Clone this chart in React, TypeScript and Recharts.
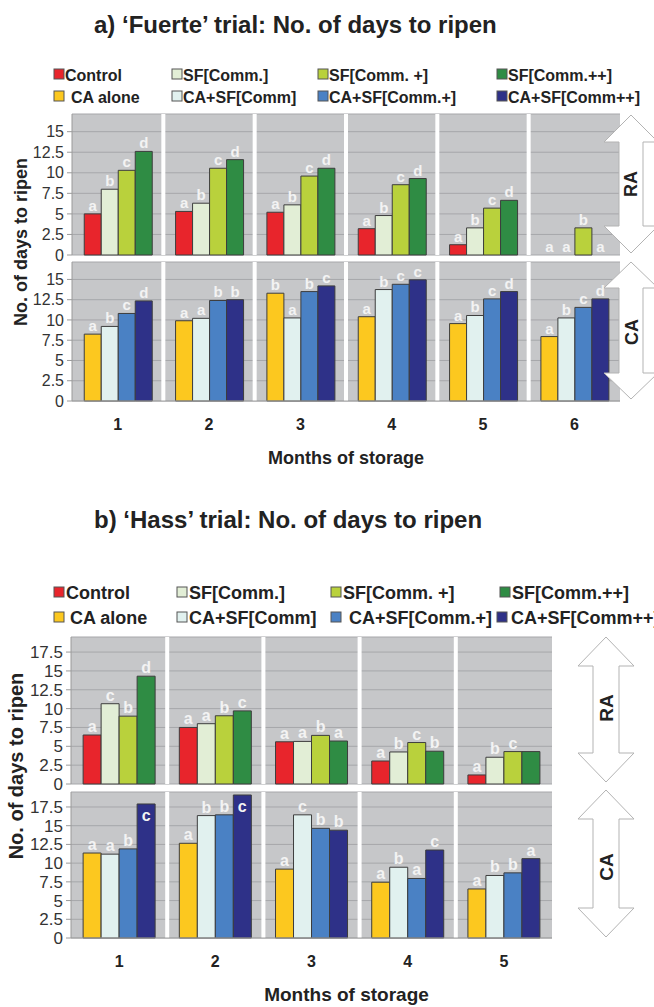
import React from 'react';
import { BarChart, Bar, XAxis, YAxis, CartesianGrid, LabelList, Label, Rectangle } from 'recharts';

const FONT = '"Liberation Sans", Arial, Helvetica, sans-serif';

// Series names and colours
const raSeriesNames = ['Control', 'SF[Comm.]', 'SF[Comm. +]', 'SF[Comm.++]'];
const caSeriesNames = ['CA alone', 'CA+SF[Comm]', 'CA+SF[Comm.+]', 'CA+SF[Comm++]'];
const raColors = ['#e8252c', '#e2eed6', '#b9d13c', '#2f8c44'];
const caColors = ['#fcc81f', '#e1f1ef', '#4a81c4', '#2e3188'];

// ---------- a) Fuerte trial ----------
const fuerteMonths = ['1', '2', '3', '4', '5', '6'];
const fuerteTicks = [0, 2.5, 5, 7.5, 10, 12.5, 15];

const fuerteRAControl = [5.0, 5.3, 5.2, 3.2, 1.25, 0];
const fuerteRASF = [8.0, 6.3, 6.1, 4.8, 3.3, 0];
const fuerteRASFPlus = [10.3, 10.55, 9.6, 8.55, 5.7, 3.3];
const fuerteRASFPlusPlus = [12.6, 11.6, 10.55, 9.3, 6.65, 0];
const fuerteRAControlLetters = ['a', 'a', 'a', 'a', 'a', 'a'];
const fuerteRASFLetters = ['b', 'b', 'b', 'b', 'b', 'a'];
const fuerteRASFPlusLetters = ['c', 'c', 'c', 'c', 'c', 'b'];
const fuerteRASFPlusPlusLetters = ['d', 'd', 'd', 'd', 'd', 'a'];

const fuerteCAAlone = [8.25, 9.9, 13.3, 10.4, 9.55, 7.95];
const fuerteCASF = [9.2, 10.2, 10.25, 13.75, 10.55, 10.25];
const fuerteCASFPlus = [10.8, 12.4, 13.5, 14.4, 12.6, 11.55];
const fuerteCASFPlusPlus = [12.35, 12.5, 14.2, 14.95, 13.5, 12.6];
const fuerteCAAloneLetters = ['a', 'a', 'b', 'a', 'a', 'a'];
const fuerteCASFLetters = ['b', 'a', 'a', 'b', 'b', 'b'];
const fuerteCASFPlusLetters = ['c', 'b', 'b', 'c', 'c', 'c'];
const fuerteCASFPlusPlusLetters = ['d', 'b', 'c', 'c', 'd', 'd'];

// ---------- b) Hass trial ----------
const hassMonths = ['1', '2', '3', '4', '5'];
const hassTicks = [0, 2.5, 5, 7.5, 10, 12.5, 15, 17.5];

const hassRAControl = [6.5, 7.5, 5.6, 3.05, 1.2];
const hassRASF = [10.65, 8.0, 5.65, 4.25, 3.55];
const hassRASFPlus = [9.0, 9.05, 6.45, 5.5, 4.3];
const hassRASFPlusPlus = [14.3, 9.7, 5.7, 4.35, 4.3];
const hassRAControlLetters = ['a', 'a', 'a', 'a', 'a'];
const hassRASFLetters = ['c', 'a', 'a', 'b', 'b'];
const hassRASFPlusLetters = ['b', 'b', 'b', 'c', 'c'];
const hassRASFPlusPlusLetters = ['d', 'c', 'a', 'b', ''];

const hassCAAlone = [11.35, 12.65, 9.2, 7.45, 6.55];
const hassCASF = [11.2, 16.35, 16.45, 9.45, 8.35];
const hassCASFPlus = [11.9, 16.45, 14.65, 7.95, 8.7];
const hassCASFPlusPlus = [17.9, 19.1, 14.4, 11.75, 10.6];
const hassCAAloneLetters = ['a', 'a', 'a', 'a', 'a'];
const hassCASFLetters = ['a', 'b', 'c', 'b', 'b'];
const hassCASFPlusLetters = ['b', 'b', 'b', 'a', 'b'];
const hassCASFPlusPlusLetters = ['c', 'c', 'b', 'c', 'a'];

function buildRows(categories: string[], values: number[][], letters: string[][]) {
  return categories.map((c, i) => {
    const row: any = { month: c };
    values.forEach((vals, s) => {
      row['v' + s] = vals[i];
      row['l' + s] = letters[s][i];
    });
    return row;
  });
}

const letterContent = (vals: number[], domainMax: number, fontSize: number) => (props: any) => {
  const { x, y, width, height, value, index } = props;
  if (!value) return null;
  const cx = Number(x) + Number(width) / 2;
  const inside = vals[index] > domainMax * 0.88;
  const top = Number(y) + Math.min(0, Number(height) || 0);
  const ty = inside ? top + fontSize + 1 : top - 3;
  return (
    <text x={cx} y={ty} textAnchor="middle" fontSize={fontSize} fontWeight="bold" fill="#f3f3f3" fontFamily={FONT}>
      {value}
    </text>
  );
};

const barShape = (props: any) => {
  if (Math.abs(Number(props.height) || 0) < 0.5) return <g />;
  return <Rectangle {...props} />;
};

type RowProps = {
  plotTop: number;
  plotBottom: number;
  plotLeft: number;
  plotRight: number;
  categories: string[];
  values: number[][];
  letters: string[][];
  colors: string[];
  names: string[];
  domainMax: number;
  ticks: number[];
  showX: boolean;
  tickFont: number;
  letterFont: number;
  gap: string;
  xTitleDx?: number;
  xTitleFont?: number;
};

function PanelRow(p: RowProps) {
  const marginTop = 8;
  const xAxisH = p.showX ? 72 : 0;
  const bottomPad = p.showX ? 0 : 12;
  const height = p.plotBottom - p.plotTop + marginTop + xAxisH + bottomPad;
  const data = buildRows(p.categories, p.values, p.letters);
  const n = p.categories.length;
  const boundaryGen = (args: any) => {
    const off = args && args.offset ? args.offset : null;
    const left = off ? off.left : p.plotLeft;
    const w = off ? off.width : p.plotRight - p.plotLeft;
    const out: number[] = [];
    for (let i = 1; i < n; i++) out.push(left + (w * i) / n);
    return out;
  };
  return (
    <div style={{ position: 'absolute', left: 0, top: p.plotTop - marginTop }}>
      <BarChart
        width={654}
        height={height}
        data={data}
        margin={{ top: marginTop, right: 654 - p.plotRight, bottom: bottomPad, left: 0 }}
        barCategoryGap={p.gap}
        barGap={0}
      >
        <CartesianGrid horizontal vertical={false} fill="#c6c7c9" fillOpacity={1} stroke="#a6a7aa" />
        <CartesianGrid horizontal={false} vertical stroke="#ffffff" strokeWidth={4} verticalCoordinatesGenerator={boundaryGen} />
        <XAxis
          dataKey="month"
          hide={!p.showX}
          height={xAxisH}
          interval={0}
          tickLine={false}
          tickSize={0}
          tickMargin={18}
          axisLine={{ stroke: '#a0a0a0' }}
          tick={{ fontSize: 16, fontWeight: 'bold', fill: '#222', fontFamily: FONT }}
        >
          {p.showX ? (
            <Label
              value="Months of storage"
              position="insideBottom"
              offset={9}
              dx={p.xTitleDx || 0}
              style={{ fontSize: p.xTitleFont || 18, fontWeight: 'bold', fill: '#222', fontFamily: FONT }}
            />
          ) : null}
        </XAxis>
        <YAxis
          type="number"
          domain={[0, p.domainMax]}
          ticks={p.ticks}
          interval={0}
          width={p.plotLeft}
          tickSize={5}
          tickMargin={3}
          axisLine={{ stroke: '#9a9a9a' }}
          tickLine={{ stroke: '#9a9a9a' }}
          tick={{ fontSize: p.tickFont, fill: '#333', fontFamily: FONT }}
        />
        {p.values.map((vals, s) => (
          <Bar
            key={s}
            dataKey={'v' + s}
            name={p.names[s]}
            fill={p.colors[s]}
            stroke="#3d3d3d"
            strokeWidth={1}
            minPointSize={0.01}
            shape={barShape}
            isAnimationActive={false}
          >
            <LabelList dataKey={'l' + s} content={letterContent(vals, p.domainMax, p.letterFont)} />
          </Bar>
        ))}
      </BarChart>
    </div>
  );
}

function DoubleArrow({ cx, y0, y1, hw, sw, hh }: { cx: number; y0: number; y1: number; hw: number; sw: number; hh: number }) {
  const d = `M${cx},${y0} L${cx + hw},${y0 + hh} L${cx + sw},${y0 + hh} L${cx + sw},${y1 - hh} L${cx + hw},${y1 - hh} L${cx},${y1} L${cx - hw},${y1 - hh} L${cx - sw},${y1 - hh} L${cx - sw},${y0 + hh} L${cx - hw},${y0 + hh} Z`;
  return <path d={d} fill="#ffffff" stroke="#b3b3b3" strokeWidth={1} />;
}

function LegendRow({ y, names, colors, squares, texts, font }: { y: number; names: string[]; colors: string[]; squares: number[]; texts: number[]; font: number }) {
  return (
    <g>
      {names.map((nm, i) => (
        <g key={nm}>
          <rect x={squares[i]} y={y - 6} width={10} height={10} fill={colors[i]} stroke="#555" strokeWidth={1} />
          <text x={texts[i]} y={y + 6} fontSize={font} fontWeight="bold" fill="#222" fontFamily={FONT}>
            {nm}
          </text>
        </g>
      ))}
    </g>
  );
}

export default function App() {
  const fuerteRAValues = [fuerteRAControl, fuerteRASF, fuerteRASFPlus, fuerteRASFPlusPlus];
  const fuerteRALetters = [fuerteRAControlLetters, fuerteRASFLetters, fuerteRASFPlusLetters, fuerteRASFPlusPlusLetters];
  const fuerteCAValues = [fuerteCAAlone, fuerteCASF, fuerteCASFPlus, fuerteCASFPlusPlus];
  const fuerteCALetters = [fuerteCAAloneLetters, fuerteCASFLetters, fuerteCASFPlusLetters, fuerteCASFPlusPlusLetters];
  const hassRAValues = [hassRAControl, hassRASF, hassRASFPlus, hassRASFPlusPlus];
  const hassRALetters = [hassRAControlLetters, hassRASFLetters, hassRASFPlusLetters, hassRASFPlusPlusLetters];
  const hassCAValues = [hassCAAlone, hassCASF, hassCASFPlus, hassCASFPlusPlus];
  const hassCALetters = [hassCAAloneLetters, hassCASFLetters, hassCASFPlusLetters, hassCASFPlusPlusLetters];

  return (
    <div style={{ position: 'absolute', left: 0, top: 0, width: 654, height: 1007, background: '#ffffff', overflow: 'hidden', fontFamily: FONT }}>
      <PanelRow
        plotTop={114} plotBottom={255} plotLeft={72} plotRight={620}
        categories={fuerteMonths} values={fuerteRAValues} letters={fuerteRALetters}
        colors={raColors} names={raSeriesNames} domainMax={17.15} ticks={fuerteTicks}
        showX={false} tickFont={16} letterFont={15} gap="13.4%"
      />
      <PanelRow
        plotTop={262} plotBottom={401} plotLeft={72} plotRight={620}
        categories={fuerteMonths} values={fuerteCAValues} letters={fuerteCALetters}
        colors={caColors} names={caSeriesNames} domainMax={17.15} ticks={fuerteTicks}
        showX={true} tickFont={16} letterFont={15} gap="13.4%" xTitleDx={0} xTitleFont={18}
      />
      <PanelRow
        plotTop={637} plotBottom={784} plotLeft={71} plotRight={552}
        categories={hassMonths} values={hassRAValues} letters={hassRALetters}
        colors={raColors} names={raSeriesNames} domainMax={19.5} ticks={hassTicks}
        showX={false} tickFont={17} letterFont={16} gap="12.6%"
      />
      <PanelRow
        plotTop={792} plotBottom={938} plotLeft={71} plotRight={552}
        categories={hassMonths} values={hassCAValues} letters={hassCALetters}
        colors={caColors} names={caSeriesNames} domainMax={19.5} ticks={hassTicks}
        showX={true} tickFont={17} letterFont={16} gap="12.6%" xTitleDx={35} xTitleFont={19}
      />
      <svg width={654} height={1007} style={{ position: 'absolute', left: 0, top: 0, pointerEvents: 'none' }}>
        {/* a) title and legend */}
        <text x={94} y={33} fontSize={24} fontWeight="bold" fill="#222" fontFamily={FONT}>
          a) {'\u2018'}Fuerte{'\u2019'} trial: No. of days to ripen
        </text>
        <LegendRow y={75} names={raSeriesNames} colors={raColors} squares={[54, 172, 318, 497]} texts={[65, 183, 329, 508]} font={16} />
        <LegendRow y={97} names={caSeriesNames} colors={caColors} squares={[54, 172, 318, 497]} texts={[71, 183, 329, 508]} font={16} />
        <text transform="translate(27,242) rotate(-90)" textAnchor="middle" fontSize={18} fontWeight="bold" fill="#222" fontFamily={FONT}>
          No. of days to ripen
        </text>
        <DoubleArrow cx={631} y0={115} y1={253} hw={27} sw={12} hh={27} />
        <DoubleArrow cx={631} y0={262} y1={399} hw={27} sw={12} hh={26} />
        <text transform="translate(637,184) rotate(-90)" textAnchor="middle" fontSize={18} fontWeight="bold" fill="#222" fontFamily={FONT}>RA</text>
        <text transform="translate(638,332) rotate(-90)" textAnchor="middle" fontSize={18} fontWeight="bold" fill="#222" fontFamily={FONT}>CA</text>

        {/* b) title and legend */}
        <text x={94} y={528} fontSize={24} fontWeight="bold" fill="#222" fontFamily={FONT}>
          b) {'\u2018'}Hass{'\u2019'} trial: No. of days to ripen
        </text>
        <LegendRow y={593} names={raSeriesNames} colors={raColors} squares={[54, 177, 331, 500]} texts={[66, 189, 343, 512]} font={18} />
        <LegendRow y={618} names={caSeriesNames} colors={caColors} squares={[54, 177, 331, 497]} texts={[70, 189, 349, 511]} font={18} />
        <text transform="translate(23,766) rotate(-90)" textAnchor="middle" fontSize={20} fontWeight="bold" fill="#222" fontFamily={FONT}>
          No. of days to ripen
        </text>
        <DoubleArrow cx={606} y0={637} y1={782} hw={28} sw={13} hh={29} />
        <DoubleArrow cx={606} y0={790} y1={937} hw={28} sw={13} hh={29} />
        <text transform="translate(613,708) rotate(-90)" textAnchor="middle" fontSize={19} fontWeight="bold" fill="#222" fontFamily={FONT}>RA</text>
        <text transform="translate(613,867) rotate(-90)" textAnchor="middle" fontSize={19} fontWeight="bold" fill="#222" fontFamily={FONT}>CA</text>
      </svg>
    </div>
  );
}
